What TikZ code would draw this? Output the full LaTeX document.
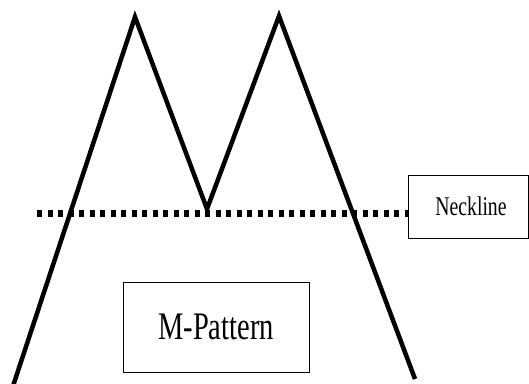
\documentclass[tikz,border=0pt]{standalone}
\usepackage{fontspec}
\usepackage{graphicx}
\setmainfont{Liberation Serif}

\newcommand{\narrowtext}[2]{\fontsize{#1}{#1}\selectfont\scalebox{0.73}[1]{#2}}

\begin{document}
\begin{tikzpicture}[x=1pt, y=-1pt, labelbox/.style={draw, line width=0.8pt, inner sep=0pt}]
    \useasboundingbox (0,0) rectangle (529,383);
    \clip (0,0) rectangle (529,383);

    % M shape
    \coordinate (foot1) at (13,386);
    \coordinate (top1) at (135,17);
    \coordinate (valley) at (207,209);
    \coordinate (top2) at (279,16);
    \coordinate (foot2) at (415,379);
    \draw[line width=4.5pt, line join=miter] (foot1) -- (top1) -- (valley) -- (top2) -- (foot2);

    % neckline
    \node[labelbox, minimum width=120pt, minimum height=63pt, anchor=north west] (neckbox) at (408,175) {};
    \node at (471,206) {\narrowtext{27}{Neckline}};
    \coordinate (neckstart) at (37,213);
    \draw[line width=7pt, dash pattern=on 5pt off 5.5pt] (neckstart) -- (neckstart -| neckbox.west);

    % pattern label
    \node[labelbox, minimum width=186pt, minimum height=90pt] (mbox) at (216,327) {\narrowtext{39}{M-Pattern}};
\end{tikzpicture}
\end{document}
